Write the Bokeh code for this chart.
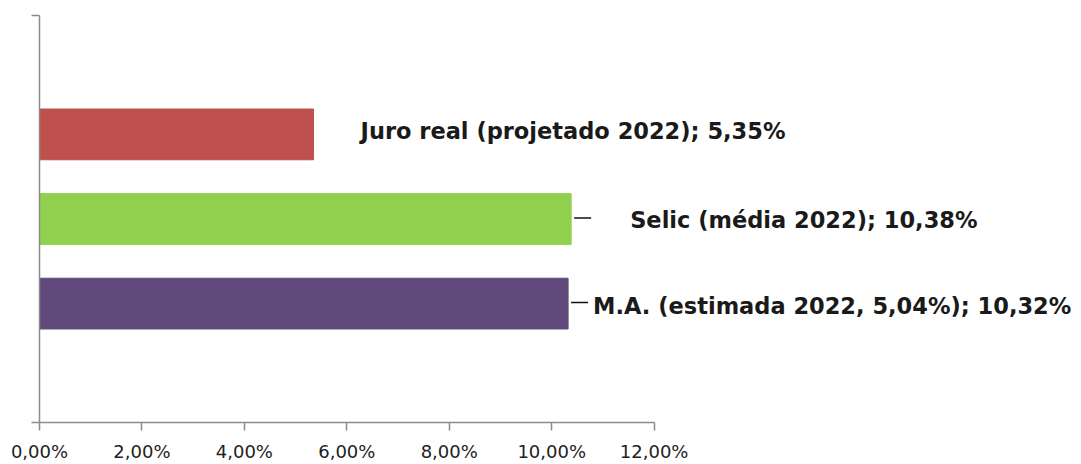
from bokeh.plotting import figure
from bokeh.models import Range1d, FixedTicker, ColumnDataSource
from bokeh.core.properties import value
from bokeh.embed import file_html
from bokeh.resources import INLINE

# ---- data ----
categories = ["M.A.", "Selic", "Juro real"]          # bottom -> top
values = [10.32, 10.38, 5.35]                         # percent
labels = ["M.A. (estimada 2022, 5,04%); 10,32%",
          "Selic (média 2022); 10,38%",
          "Juro real (projetado 2022); 5,35%"]
colors = ["#604A7B", "#92D050", "#C0504D"]
x_ticks = [0, 2, 4, 6, 8, 10, 12]
x_tick_labels = ["0,00%", "2,00%", "4,00%", "6,00%", "8,00%", "10,00%", "12,00%"]

# ---- styling / layout (pixels) ----
label_dx = [25, 59, 47]
label_dy = [2, 1, -3]
has_leader = [True, True, False]

W, H = 1081, 464
LEFT, TOP, BOTTOM = 39, 15, 40
PX_PER_UNIT = 51.22
PAD = 0.905                      # empty space above / below the category block
frame_w = W - LEFT
x_end = frame_w / PX_PER_UNIT
n = len(categories)
y_end = n + 2 * PAD
y_pos = [PAD + 0.5 + i for i in range(n)]   # category slots

p = figure(width=W, height=H, output_backend="svg", toolbar_location=None,
           x_range=Range1d(0, x_end), y_range=Range1d(0, y_end),
           min_border_left=LEFT, min_border_right=0,
           min_border_top=TOP, min_border_bottom=BOTTOM)
p.outline_line_color = None
p.xgrid.visible = False
p.ygrid.visible = False
p.background_fill_color = "white"
p.border_fill_color = "white"

AXIS_COLOR = "#8C8C8C"

xa = p.xaxis[0]
xa.bounds = (0, 12)
xa.ticker = FixedTicker(ticks=x_ticks)
xa.major_label_overrides = {t: l for t, l in zip(x_ticks, x_tick_labels)}
ya = p.yaxis[0]
ya.ticker = FixedTicker(ticks=[0, y_end])
ya.major_label_text_font_size = "1px"
ya.major_label_text_alpha = 0
ya.major_label_standoff = 0
for ax in (xa, ya):
    ax.major_tick_out = 8
    ax.major_tick_in = 0
    ax.minor_tick_out = 0
    ax.minor_tick_in = 0
    ax.axis_line_color = AXIS_COLOR
    ax.axis_line_width = 1.5
    ax.major_tick_line_color = AXIS_COLOR
    ax.major_tick_line_width = 1.5
xa.major_label_text_font = "DejaVu Sans"
xa.major_label_text_font_size = "18px"
xa.major_label_text_color = "#222222"
xa.major_label_standoff = 10

src = ColumnDataSource(dict(cat=categories, y=y_pos, val=values, label=labels,
                            color=colors, dx=label_dx, dy=label_dy))

p.hbar(y="y", left=0, right="val", height=0.6, source=src,
       fill_color="color", line_color="color", line_width=1)

p.text(x="val", y="y", text="label", x_offset="dx", y_offset="dy", source=src,
       text_font=value("DejaVu Sans"), text_font_style="bold", text_font_size="22.5px",
       text_baseline="alphabetic", text_align="left", text_color="#1A1A1A")

lead_y = [y for y, h in zip(y_pos, has_leader) if h]
lead_val = [v for v, h in zip(values, has_leader) if h]
lsrc = ColumnDataSource(dict(
    y=[y + 1.0 / 85 for y in lead_y],
    x0=[v + 3 / PX_PER_UNIT for v in lead_val],
    x1=[v + 20 / PX_PER_UNIT for v in lead_val]))
p.segment(x0="x0", x1="x1", y0="y", y1="y", source=lsrc,
          line_color="#111111", line_width=1.5)

open("out.html", "w").write(file_html(p, INLINE))
